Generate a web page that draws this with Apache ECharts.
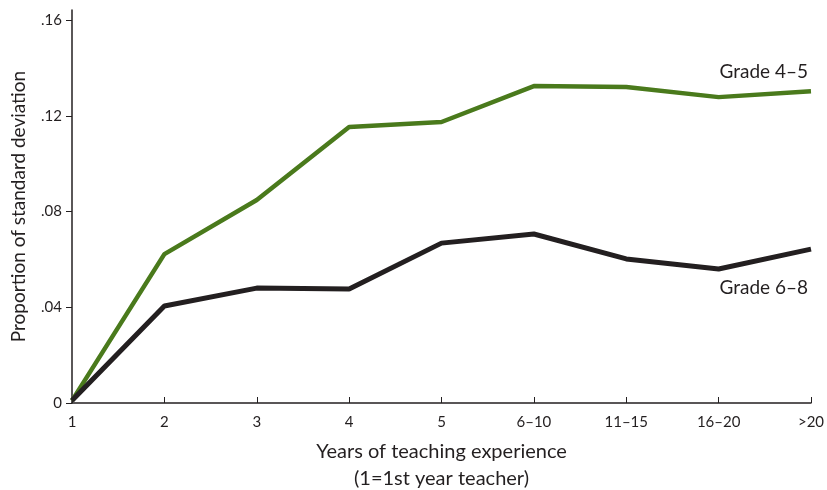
<!DOCTYPE html>
<html>
<head>
    <meta charset="UTF-8">
    <title>Teaching experience</title>
    <script src="https://cdn.jsdelivr.net/npm/echarts@6/dist/echarts.min.js"></script>
    <style>
        body { margin: 0; background: #fff; }
    </style>
</head>
<body>
<div id="chart" style="width: 827px;height: 490px;"></div>
<script type="text/javascript">
    // data
    var categories = ['1', '2', '3', '4', '5', '6–10', '11–15', '16–20', '>20'];
    var grade45 = [0.001, 0.0622, 0.0848, 0.1153, 0.1174, 0.1324, 0.132, 0.1278, 0.1303];
    var grade68 = [0.001, 0.0405, 0.048, 0.0476, 0.0668, 0.0706, 0.0602, 0.056, 0.0643];
    var yTickValues = [0, 0.04, 0.08, 0.12, 0.16];
    var yTicks = ['0', '.04', '.08', '.12', '.16'];

    var font = 'Lato';
    var textColor = '#231f20';

    var myChart = echarts.init(document.getElementById('chart'));
    var option = {
        animation: false,
        grid: {
            left: 72,
            right: 16,
            top: 10,
            bottom: 87,
            containLabel: false,
            outerBoundsMode: 'none'
        },
        xAxis: {
            type: 'category',
            data: categories,
            boundaryGap: false,
            name: 'Years of teaching experience\n(1=1st year teacher)',
            nameLocation: 'middle',
            nameGap: 35,
            nameTextStyle: {
                fontFamily: font,
                fontSize: 20,
                color: textColor,
                lineHeight: 27,
                verticalAlign: 'top'
            },
            axisLine: { lineStyle: { color: textColor, width: 1.5 } },
            axisTick: { inside: true, length: 6, alignWithLabel: true, lineStyle: { color: textColor } },
            axisLabel: {
                fontFamily: font,
                fontSize: 15,
                color: textColor,
                margin: 12,
                interval: 0
            }
        },
        yAxis: {
            type: 'value',
            min: 0,
            max: 0.1642,
            name: 'Proportion of standard deviation',
            nameLocation: 'middle',
            nameGap: 44,
            nameTextStyle: {
                fontFamily: font,
                fontSize: 19,
                color: textColor
            },
            splitLine: { show: false },
            axisLine: { show: true, lineStyle: { color: textColor, width: 1.5 } },
            axisTick: { show: true, length: 6, customValues: yTickValues, lineStyle: { color: textColor } },
            axisLabel: {
                fontFamily: font,
                fontSize: 15,
                color: textColor,
                margin: 10,
                customValues: yTickValues,
                formatter: function (v) {
                    return yTicks[Math.round(v / 0.04)];
                }
            }
        },
        series: [
            {
                name: 'Grade 4–5',
                type: 'line',
                data: grade45,
                symbol: 'none',
                lineStyle: { color: '#4a7a1c', width: 4.5 }
            },
            {
                name: 'Grade 6–8',
                type: 'line',
                data: grade68,
                symbol: 'none',
                lineStyle: { color: '#231f20', width: 5 }
            }
        ],
        graphic: [
            {
                type: 'text',
                right: 19,
                top: 62,
                style: { text: 'Grade 4–5', fontFamily: font, fontSize: 19, fill: textColor }
            },
            {
                type: 'text',
                right: 19,
                top: 278,
                style: { text: 'Grade 6–8', fontFamily: font, fontSize: 19, fill: textColor }
            }
        ]
    };
    option && myChart.setOption(option);
</script>
</body>
</html>
